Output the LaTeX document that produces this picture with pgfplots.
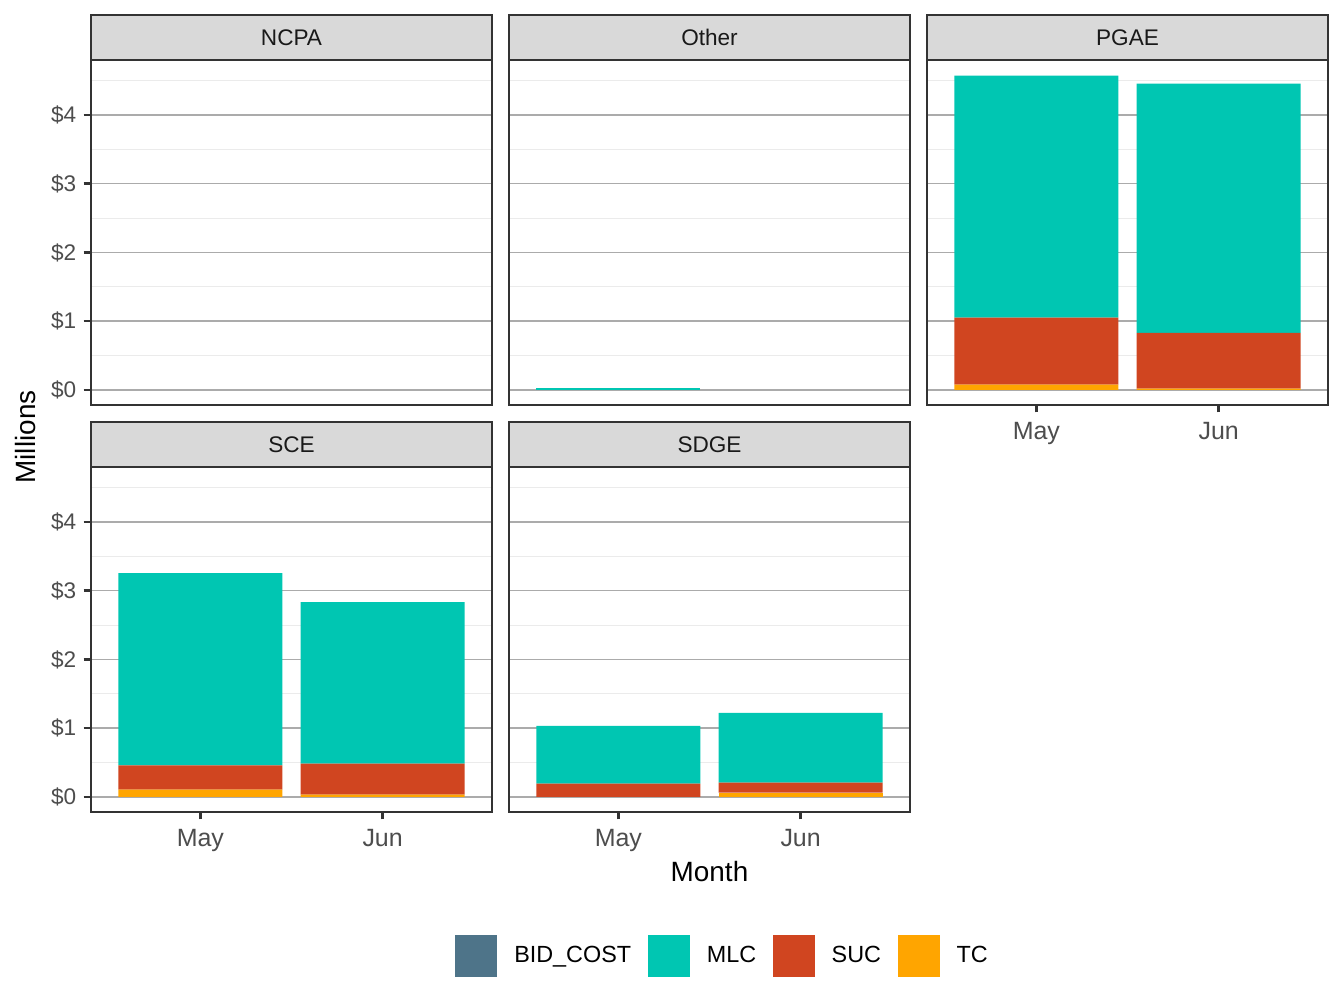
\documentclass[border=0pt]{standalone}
\usepackage{fontspec}
\setmainfont{Liberation Sans}
\usepackage{pgfplots}
\pgfplotsset{compat=1.18}

\definecolor{bidc}{HTML}{4E7489}
\definecolor{mlc}{HTML}{00C6B2}
\definecolor{suc}{HTML}{D04520}
\definecolor{tc}{HTML}{FFA500}
\definecolor{stripfill}{HTML}{D9D9D9}
\definecolor{frame}{HTML}{333333}
\definecolor{ticktxt}{HTML}{4D4D4D}
\definecolor{gridmaj}{HTML}{ABABAB}
\definecolor{gridmin}{HTML}{EBEBEB}

% 1 px of the reference = 0.375bp (picture is 504bp x 378bp)
\pgfplotsset{
  panel/.style={
    scale only axis, width=150.375bp, height=129.375bp, anchor=north west,
    xmin=0.4, xmax=2.6, ymin=-0.22, ymax=4.8,
    ybar stacked, bar width=0.9,
    xtick={1,2}, xticklabels={May,Jun},
    ytick={0,1,2,3,4}, minor ytick={0.5,1.5,2.5,3.5,4.5},
    ymajorgrids, yminorgrids,
    major grid style={draw=gridmaj, line width=0.5bp},
    minor grid style={draw=gridmin, line width=0.4bp},
    minor tick length=0pt,
    axis line style={draw=frame, line width=0.8bp},
    tick align=outside, major tick length=2.75bp,
    tick pos=left,
    major tick style={draw=frame, line width=1bp},
    /pgf/number format/assume math mode=true,
    yticklabel={\$\pgfmathprintnumber{\tick}},
    yticklabel style={font=\fontsize{8.5}{10}\selectfont, text=ticktxt, inner sep=0pt, xshift=-2.6bp},
    xticklabel style={font=\fontsize{9.4}{11}\selectfont, text=ticktxt, inner sep=0pt, yshift=-3.7bp},
  },
  noy/.style={yticklabels={}, ytick style={draw=none}},
  nox/.style={xticklabels={}, xtick style={draw=none}},
}

\begin{document}
\begin{tikzpicture}
\useasboundingbox (0,0) rectangle (504bp,-378bp);

% ---- row 1 ----
\begin{axis}[panel, nox, at={(34.125bp,-22.5bp)}]
\addplot[fill=mlc, draw=none] coordinates {(1,0) (2,0)};
\end{axis}

\begin{axis}[panel, nox, noy, at={(190.875bp,-22.5bp)}]
\addplot[fill=mlc, draw=none] coordinates {(1,0.03) (2,0)};
\end{axis}

\begin{axis}[panel, noy, at={(347.625bp,-22.5bp)}]
\addplot[fill=tc, draw=none]  coordinates {(1,0.077) (2,0.020)};
\addplot[fill=suc, draw=none] coordinates {(1,0.975) (2,0.810)};
\addplot[fill=mlc, draw=none] coordinates {(1,3.520) (2,3.626)};
\end{axis}

% ---- row 2 ----
\begin{axis}[panel, at={(34.125bp,-175.125bp)}]
\addplot[fill=tc, draw=none]  coordinates {(1,0.106) (2,0.033)};
\addplot[fill=suc, draw=none] coordinates {(1,0.352) (2,0.450)};
\addplot[fill=mlc, draw=none] coordinates {(1,2.798) (2,2.351)};
\end{axis}

\begin{axis}[panel, noy, at={(190.875bp,-175.125bp)},
    legend style={at={(0.530,-0.417)}, anchor=center, draw=none, fill=none,
      legend columns=4, font=\fontsize{8.8}{10}\selectfont,
      nodes={inner sep=0pt},
      /tikz/every odd column/.append style={column sep=6.4bp},
      /tikz/every even column/.append style={column sep=6.2bp}},
    legend image code/.code={\fill[#1] (0bp,-7.875bp) rectangle (15.75bp,7.875bp);},
    xlabel={Month},
    xlabel style={font=\fontsize{10.5}{12}\selectfont, at={(0.5,-0.172)}, anchor=center}]
\addlegendimage{fill=bidc, draw=none}\addlegendentry{BID\_COST}
\addlegendimage{fill=mlc, draw=none}\addlegendentry{MLC}
\addlegendimage{fill=suc, draw=none}\addlegendentry{SUC}
\addlegendimage{fill=tc, draw=none}\addlegendentry{TC}
\addplot[fill=tc, draw=none]  coordinates {(1,0.000) (2,0.062)};
\addplot[fill=suc, draw=none] coordinates {(1,0.193) (2,0.145)};
\addplot[fill=mlc, draw=none] coordinates {(1,0.842) (2,1.016)};
\end{axis}

% ---- facet strips ----
\begin{scope}[x=0.375bp, y=-0.375bp]
\foreach \l/\t/\lab in {91/15/NCPA, 509/15/Other, 927/15/PGAE, 91/422/SCE, 509/422/SDGE}{
  \filldraw[fill=stripfill, draw=frame, line width=0.8bp] (\l,\t) rectangle ++(401,45);
  \node[font=\fontsize{8.5}{10}\selectfont, text=black!90, inner sep=0pt] at (\l+200.5,\t+22.5) {\lab};
}
\node[rotate=90, font=\fontsize{10.5}{12}\selectfont, inner sep=0pt] at (26,437) {Millions};
\end{scope}
\end{tikzpicture}
\end{document}
